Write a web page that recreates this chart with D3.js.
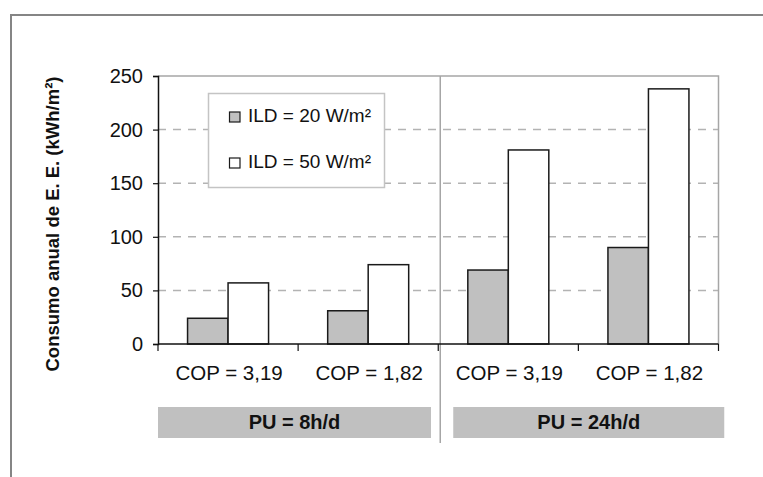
<!DOCTYPE html>
<html>
<head>
<meta charset="utf-8">
<script src="https://cdn.jsdelivr.net/npm/d3@7"></script>
<style>
  html, body { margin: 0; padding: 0; background: #fff; }
  svg { display: block; font-family: "Liberation Sans", Arial, sans-serif; }
</style>
</head>
<body>
<svg id="chart" width="763" height="477"></svg>
<script>
// Annual electrical energy use per scenario
const categories = ["COP = 3,19", "COP = 1,82", "COP = 3,19", "COP = 1,82"];
const groups = ["PU = 8h/d", "PU = 24h/d"];
const seriesNames = ["ILD = 20 W/m²", "ILD = 50 W/m²"];
const ild20 = [24, 31, 69, 90];
const ild50 = [57, 74, 181, 238];
const yTicks = [0, 50, 100, 150, 200, 250];
const yTitle = "Consumo anual de E. E. (kWh/m²)";

const seriesColors = ["#c0c0c0", "#ffffff"];
const seriesValues = [ild20, ild50];

const svg = d3.select("#chart");

// outer frame (continues past the right and bottom edges)
svg.append("rect")
  .attr("x", 11).attr("y", 15)
  .attr("width", 800).attr("height", 500)
  .attr("fill", "none").attr("stroke", "#858585").attr("stroke-width", 2);

const plot = { left: 158, right: 718.5, top: 76, bottom: 344 };

const x0 = d3.scaleBand()
  .domain(d3.range(categories.length))
  .range([plot.left, plot.right])
  .padding(0);

const x1 = d3.scaleBand()
  .domain(d3.range(seriesNames.length))
  .range([0, x0.bandwidth()])
  .paddingInner(0)
  .paddingOuter(0.73);

const y = d3.scaleLinear()
  .domain([0, 250])
  .range([plot.bottom, plot.top]);

// dashed gridlines
svg.append("g")
  .selectAll("line")
  .data(yTicks.filter(t => t > 0 && t < 250))
  .join("line")
  .attr("x1", plot.left).attr("x2", plot.right)
  .attr("y1", d => y(d)).attr("y2", d => y(d))
  .attr("stroke", "#b3b3b3").attr("stroke-width", 1.5)
  .attr("stroke-dasharray", "8,7");

// plot frame top and right
svg.append("path")
  .attr("d", `M${plot.left},${y(250)}H${plot.right}V${plot.bottom}`)
  .attr("fill", "none").attr("stroke", "#a6a6a6").attr("stroke-width", 1.5);

// divider between the two PU groups
const divX = x0(2) + 2;
svg.append("line")
  .attr("x1", divX).attr("x2", divX)
  .attr("y1", y(250)).attr("y2", 443)
  .attr("stroke", "#a6a6a6").attr("stroke-width", 1.5);

// bars
const barG = svg.append("g");
categories.forEach((c, i) => {
  seriesValues.forEach((vals, s) => {
    barG.append("rect")
      .attr("x", x0(i) + x1(s))
      .attr("y", y(vals[i]))
      .attr("width", x1.bandwidth())
      .attr("height", y(0) - y(vals[i]))
      .attr("fill", seriesColors[s])
      .attr("stroke", "#1a1a1a")
      .attr("stroke-width", 1.5);
  });
});

// y axis
const yAxis = d3.axisLeft(y).tickValues(yTicks).tickSize(5).tickPadding(10);
const gy = svg.append("g")
  .attr("transform", `translate(${plot.left},0)`)
  .call(yAxis);
gy.select(".domain").attr("stroke", "#111").attr("stroke-width", 1.5);
gy.selectAll(".tick line").attr("stroke", "#111").attr("stroke-width", 1.2);
gy.selectAll(".tick text")
  .attr("font-size", 20).attr("fill", "#111")
  .attr("font-family", "Liberation Sans, Arial, sans-serif");

// x axis baseline with category boundary ticks
svg.append("line")
  .attr("x1", plot.left).attr("x2", plot.right)
  .attr("y1", y(0)).attr("y2", y(0))
  .attr("stroke", "#111").attr("stroke-width", 1.5);
svg.append("g")
  .selectAll("line")
  .data(d3.range(categories.length + 1))
  .join("line")
  .attr("x1", i => i < categories.length ? x0(i) : plot.right)
  .attr("x2", i => i < categories.length ? x0(i) : plot.right)
  .attr("y1", y(0)).attr("y2", y(0) + 7)
  .attr("stroke", "#111").attr("stroke-width", 1.2);

// category labels
svg.append("g")
  .selectAll("text")
  .data(categories)
  .join("text")
  .attr("x", (d, i) => x0(i) + x0.bandwidth() / 2 + 1)
  .attr("y", 380)
  .attr("text-anchor", "middle")
  .attr("font-size", 20.5)
  .attr("fill", "#111")
  .text(d => d);

// group boxes
const groupBoxes = [
  { x: x0(0), w: 273 },
  { x: x0(2) + 15, w: 271 }
];
groups.forEach((g, i) => {
  const b = groupBoxes[i];
  svg.append("rect")
    .attr("x", b.x).attr("y", 407)
    .attr("width", b.w).attr("height", 31)
    .attr("fill", "#c0c0c0");
  svg.append("text")
    .attr("x", b.x + b.w / 2).attr("y", 429)
    .attr("text-anchor", "middle")
    .attr("font-size", 20).attr("font-weight", "bold")
    .attr("fill", "#111")
    .text(g);
});

// y axis title
svg.append("text")
  .attr("transform", `translate(58.5,224) rotate(-90)`)
  .attr("text-anchor", "middle")
  .attr("font-size", 18.5).attr("font-weight", "bold")
  .attr("fill", "#111")
  .text(yTitle);

// legend
const legend = svg.append("g");
legend.append("rect")
  .attr("x", 208.5).attr("y", 93.5)
  .attr("width", 176).attr("height", 94)
  .attr("fill", "#fff").attr("stroke", "#c4c4c4").attr("stroke-width", 1.5);
seriesNames.forEach((n, s) => {
  const cy = 117 + s * 46;
  legend.append("rect")
    .attr("x", 229.5).attr("y", cy - 5)
    .attr("width", 10.5).attr("height", 10)
    .attr("fill", seriesColors[s])
    .attr("stroke", "#1a1a1a").attr("stroke-width", 1.2);
  legend.append("text")
    .attr("x", 248).attr("y", cy + 5)
    .attr("font-size", 19)
    .attr("fill", "#111")
    .text(n);
});
</script>
</body>
</html>
